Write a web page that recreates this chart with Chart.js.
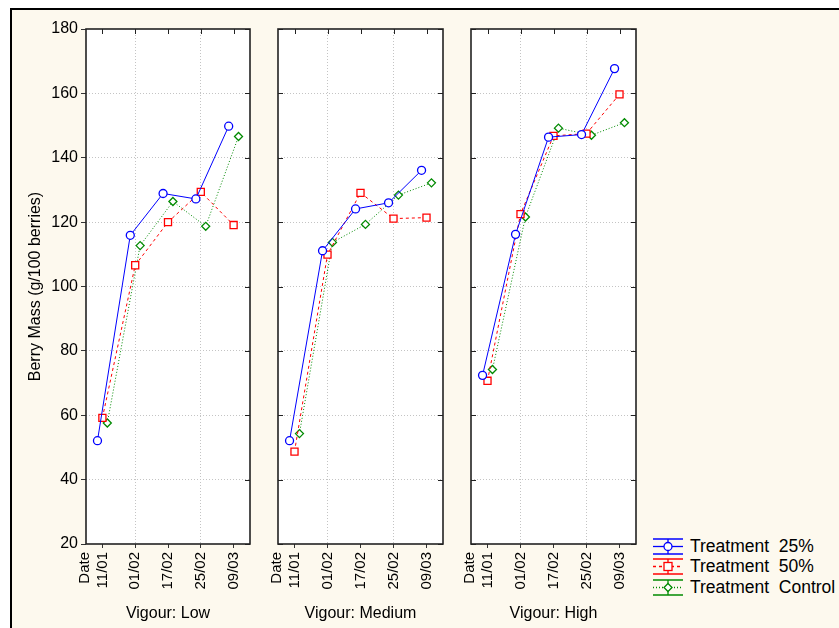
<!DOCTYPE html>
<html>
<head>
<meta charset="utf-8">
<script src="https://cdn.jsdelivr.net/npm/chart.js@4.4.1/dist/chart.umd.min.js"></script>
<style>
  body { margin: 0; background: #fff; width: 839px; height: 628px; overflow: hidden; position: relative; }
  #page { position: absolute; left: 10px; top: 8px; width: 840px; height: 640px;
          background: #fdf9ee; border-left: 2px solid #000; border-top: 2px solid #000; }
  canvas { position: absolute; top: 0; }
  #legend { position: absolute; left: 652px; top: 536px; font: 17.5px "Liberation Sans", Arial, sans-serif; color: #000; }
  #legend div { height: 20.5px; display: flex; align-items: center; white-space: pre; }
  #legend svg { margin-right: 7px; }
</style>
</head>
<body>
<div id="page"></div>
<canvas id="p0" width="262" height="628"></canvas>
<canvas id="p1" width="197" height="628"></canvas>
<canvas id="p2" width="197" height="628"></canvas>
<div id="legend"></div>
<script>
// axes
const dates = ['11/01', '01/02', '17/02', '25/02', '09/03'];
const yMin = 20, yMax = 180, yStep = 20;
const yTitle = 'Berry Mass (g/100 berries)';
const panelTitles = ['Vigour: Low', 'Vigour: Medium', 'Vigour: High'];
const seriesNames = ['Treatment  25%', 'Treatment  50%', 'Treatment  Control'];

// valeurs (une liste par vigueur et traitement)
const low25 = [52.1, 115.9, 128.9, 127.2, 149.8];
const low50 = [59.2, 106.6, 120.0, 129.4, 119.1];
const lowCtl = [57.6, 112.7, 126.4, 118.7, 146.6];
const med25 = [52.1, 111.1, 124.1, 126.0, 136.1];
const med50 = [48.7, 109.9, 129.1, 121.1, 121.4];
const medCtl = [54.3, 113.7, 119.3, 128.4, 132.2];
const high25 = [72.4, 116.2, 146.4, 147.2, 167.7];
const high50 = [70.7, 122.5, 146.8, 147.5, 159.7];
const highCtl = [74.2, 121.6, 149.2, 147.0, 150.9];

const panelData = [
  [low25, low50, lowCtl],
  [med25, med50, medCtl],
  [high25, high50, highCtl]
];

// style of each series
const styles = [
  { color: '#0000ff', dash: [], point: 'circle', radius: 4 },
  { color: '#ff0000', dash: [3, 3], point: 'rect', radius: 5 },
  { color: '#008a00', dash: [1, 2], point: 'rectRot', radius: 4 }
];
const shift = [-0.15, 0, 0.15];  // décalage horizontal des séries

// plot area of each panel (left, width) and room left of it in the canvas
const panelBox = [
  { left: 86, width: 164, room: 86 },
  { left: 278, width: 165, room: 20 },
  { left: 471, width: 165, room: 20 }
];

const tickFont = { family: 'Liberation Sans', size: 15 };
const titleFont = { family: 'Liberation Sans', size: 16 };

// white plot background, dark frame, inner tick marks
const framePlugin = {
  id: 'frame',
  beforeDraw(chart) {
    const { ctx, chartArea: a } = chart;
    ctx.save();
    ctx.fillStyle = '#fff';
    ctx.fillRect(a.left, a.top, a.width, a.height);
    ctx.restore();
  },
  afterDraw(chart) {
    const { ctx, chartArea: a, scales } = chart;
    const first = chart.canvas.id === 'p0';
    ctx.save();
    ctx.strokeStyle = '#222';
    ctx.lineWidth = 1;
    ctx.beginPath();
    scales.x.ticks.forEach(t => {
      const px = Math.round(scales.x.getPixelForValue(t.value)) + 0.5;
      ctx.moveTo(px, a.top); ctx.lineTo(px, a.top + 5);
    });
    scales.y.ticks.forEach(t => {
      const py = Math.round(scales.y.getPixelForValue(t.value)) + 0.5;
      ctx.moveTo(a.right - 5, py); ctx.lineTo(a.right, py);
      if (!first) { ctx.moveTo(a.left, py); ctx.lineTo(a.left + 5, py); }
    });
    ctx.stroke();
    ctx.lineWidth = 1.6;
    ctx.strokeRect(a.left, a.top, a.width, a.height);
    ctx.restore();
  }
};

function makePanel(i) {
  const box = panelBox[i];
  const canvas = document.getElementById('p' + i);
  canvas.style.left = (box.left - box.room) + 'px';
  const first = i === 0;

  const datasets = panelData[i].map((vals, s) => ({
    label: seriesNames[s],
    data: vals.map((v, k) => ({ x: k + shift[s], y: v })),
    borderColor: styles[s].color,
    borderWidth: 1,
    borderDash: styles[s].dash,
    pointStyle: styles[s].point,
    pointRadius: styles[s].radius,
    pointBorderWidth: 1.3,
    pointBorderColor: styles[s].color,
    pointBackgroundColor: '#fff',
    tension: 0
  }));

  return new Chart(canvas, {
    type: 'line',
    data: { datasets },
    plugins: [framePlugin],
    options: {
      responsive: false,
      animation: false,
      layout: { padding: { top: 29, right: canvas.width - box.room - box.width, bottom: 0, left: 0 } },
      plugins: { legend: { display: false }, tooltip: { enabled: false } },
      scales: {
        x: {
          type: 'linear',
          min: -0.5, max: 4.5,
          afterBuildTicks: s => { s.ticks = dates.map((d, k) => ({ value: k })); },
          afterFit: s => { s.height = 84; s.paddingLeft = 0; s.paddingRight = 0; },
          ticks: {
            minRotation: 90, maxRotation: 90,
            font: tickFont, color: '#000', padding: 4,
            autoSkip: false,
            labelOffset: -tickFont.size * 1.2,
            callback: v => v === 0 ? ['Date', dates[0]] : ['', dates[v]]
          },
          grid: {
            color: c => (c.tick && (c.tick.value === 1 || c.tick.value === 3)) ? '#c4c4c4' : 'rgba(0,0,0,0)',
            tickColor: '#333', tickLength: 4, lineWidth: 1
          },
          border: { display: false, dash: [1, 2] },
          title: { display: true, text: panelTitles[i], font: titleFont, color: '#000', padding: { top: 0, bottom: 5 } }
        },
        y: {
          min: yMin, max: yMax,
          afterFit: s => { s.width = box.room; s.paddingTop = 0; s.paddingBottom = 0; },
          ticks: { stepSize: yStep, display: first, font: { family: 'Liberation Sans', size: 16 }, color: '#000', padding: 3 },
          grid: {
            color: c => (c.tick && (c.tick.value === yMin || c.tick.value === yMax)) ? 'rgba(0,0,0,0)' : '#c4c4c4',
            tickColor: '#333', tickLength: 5, drawTicks: first
          },
          border: { display: false, dash: [1, 2] },
          title: { display: first, text: yTitle, font: titleFont, color: '#000', padding: { top: 26, bottom: 0 } }
        }
      }
    }
  });
}

[0, 1, 2].forEach(makePanel);

// legend with error-bar style icons
const legend = document.getElementById('legend');
seriesNames.forEach((name, s) => {
  const st = styles[s];
  const c = st.color;
  let marker;
  if (st.point === 'circle') marker = `<circle cx="16" cy="9.5" r="4" fill="#fff" stroke="${c}" stroke-width="1.3"/>`;
  else if (st.point === 'rect') marker = `<rect x="12" y="5.5" width="8" height="8" fill="#fff" stroke="${c}" stroke-width="1.3"/>`;
  else marker = `<path d="M16 5.5 L20 9.5 L16 13.5 L12 9.5 Z" fill="#fff" stroke="${c}" stroke-width="1.3"/>`;
  const dash = st.dash.length ? `stroke-dasharray="${st.dash.join(' ')}"` : '';
  const row = document.createElement('div');
  row.innerHTML =
    `<svg width="31" height="19">` +
    `<line x1="1" y1="2" x2="31" y2="2" stroke="${c}" stroke-width="1.5"/>` +
    `<line x1="1" y1="17" x2="31" y2="17" stroke="${c}" stroke-width="1.5"/>` +
    `<line x1="16" y1="2" x2="16" y2="17" stroke="${c}" stroke-width="1.3"/>` +
    `<line x1="1" y1="9.5" x2="31" y2="9.5" stroke="${c}" stroke-width="1.3" ${dash}/>` +
    marker + `</svg><span>${name}</span>`;
  legend.appendChild(row);
});
</script>
</body>
</html>
